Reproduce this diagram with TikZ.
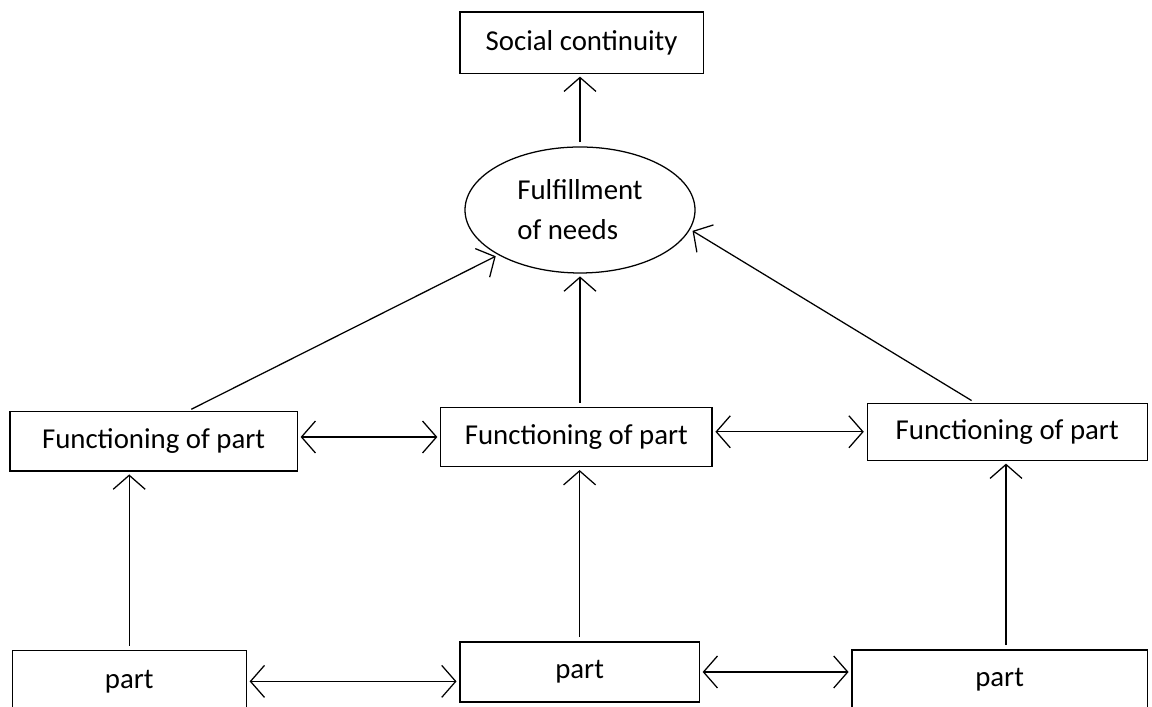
\documentclass[tikz,border=0pt]{standalone}
\usepackage{fontspec}
\setmainfont{Carlito}
\usetikzlibrary{arrows, arrows.meta}
\usetikzlibrary{shapes.geometric}

\tikzset{
  box/.style={rectangle, draw, line width=0.9pt, inner sep=0pt, font=\fontsize{20.5}{28.5}\selectfont},
  needsoval/.style={ellipse, draw, line width=0.9pt, inner sep=0pt, align=left, font=\fontsize{20.5}{28.5}\selectfont},
  arr/.style={line width=0.9pt, -{Straight Barb[length=3.5mm, width=8mm]}, shorten >=2pt, shorten <=3pt},
  darr/.style={line width=0.9pt, {Straight Barb[length=3.5mm, width=8mm]}-{Straight Barb[length=3.5mm, width=8mm]}, shorten >=2pt, shorten <=2pt}
}

\begin{document}
\begin{tikzpicture}
      \useasboundingbox[fill=white] (0,0) rectangle (28.8,17.675);

      \node[box, minimum width=6.08cm, minimum height=1.53cm] (social) at (14.54,16.61) {Social continuity};
      \node[needsoval, minimum width=5.75cm, minimum height=3.15cm] (needs) at (14.5,12.425) {Fulfillment\\of needs};

      \node[box, minimum width=7.18cm, minimum height=1.48cm] (funcL) at (3.84,6.64) {Functioning of part};
      \node[box, minimum width=6.78cm, minimum height=1.48cm] (funcM) at (14.41,6.75) {Functioning of part};
      \node[box, minimum width=7.0cm, minimum height=1.42cm] (funcR) at (25.18,6.88) {Functioning of part};

      \node[box, minimum width=5.85cm, minimum height=1.53cm] (partL) at (3.23,0.64) {part};
      \node[box, minimum width=5.98cm, minimum height=1.5cm] (partM) at (14.49,0.875) {part};
      \node[box, minimum width=7.38cm, minimum height=1.5cm] (partR) at (24.99,0.675) {part};

      \draw[arr] (needs.north) -- (needs.north |- social.south);
      \draw[arr] ([xshift=0.85cm]funcL.north) -- (needs.south west);
      \draw[arr] (needs.south |- funcM.north) -- (needs.south);
      \draw[arr] ([xshift=-0.8cm]funcR.north) -- (needs.-10);

      \draw[darr] (funcL.east |- funcM.west) -- (funcM.west);
      \draw[darr] (funcM.east |- funcR.west) -- (funcR.west);

      \draw[arr] (partL.north) -- (partL.north |- funcL.south);
      \draw[arr] (partM.north) -- (partM.north |- funcM.south);
      \draw[arr] ([xshift=0.16cm]partR.north) -- ([xshift=0.16cm]partR.north |- funcR.south);

      \draw[darr] (partL.east) -- (partL.east -| partM.west);
      \draw[darr] (partM.east) -- (partM.east -| partR.west);
    \end{tikzpicture}
\end{document}
